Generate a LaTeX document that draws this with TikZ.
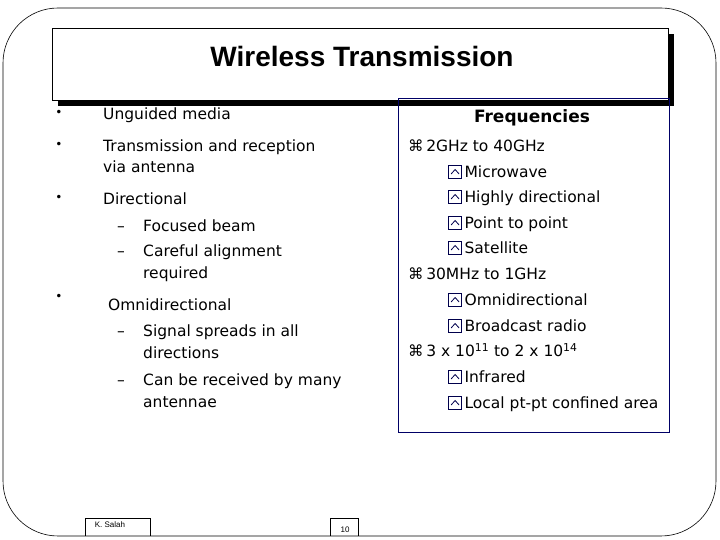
\documentclass[tikz,border=0pt]{standalone}
\usepackage{fontspec}
\setmainfont{DejaVu Sans}
\newfontfamily\titlefont{Liberation Sans}
\newcommand{\qbox}{\tikz[baseline=0pt,x=1pt,y=1pt]{\draw[line width=0.8pt,black!70!blue] (0,0) rectangle (13,13); \draw[line width=0.8pt,black!70!blue] (2.5,4)--(6.5,8.5)--(10.5,4);}}
\begin{document}
\begin{tikzpicture}[x=1pt,y=1pt,
  txt/.style={anchor=base west,inner sep=0pt,font=\fontsize{15.5}{17}\selectfont},
  bul/.style={anchor=center,inner sep=0pt,font=\fontsize{12}{13}\selectfont},
  ftxt/.style={anchor=base west,inner sep=0pt,font=\fontsize{15.5}{17}\selectfont}]
\useasboundingbox (0,0) rectangle (720,540);
\draw[line width=0.6pt,rounded corners=55pt] (3,4) rectangle (716,532);
\fill (58,434) rectangle (674,506);
\node[draw,fill=white,line width=0.8pt,minimum width=616pt,minimum height=72pt,inner sep=0pt,anchor=north west] (title) at (52,512) {};
\node[font=\titlefont\bfseries\fontsize{28}{31}\selectfont] (tt) at (362,483) {Wireless Transmission};
\node[draw=black!60!blue,line width=0.8pt,minimum width=271pt,minimum height=334pt,inner sep=0pt,anchor=north west] (fbox) at (398,442) {};
% left bullets
\node[bul] (b1) at (59,427) {•};
\node[txt] (l1) at (103,420) {Unguided media};
\node[bul] (b2) at (59,395) {•};
\node[txt] (l2) at (103,388) {Transmission and reception};
\node[txt] (l3) at (103,367) {via antenna};
\node[bul] (b3) at (59,342) {•};
\node[txt] (l4) at (103,335) {Directional};
\node[txt] (l5) at (117,308) {–};
\node[txt] (l5b) at (143,308) {Focused beam};
\node[txt] (l6) at (117,283) {–};
\node[txt] (l6b) at (143,283) {Careful alignment};
\node[txt] (l7) at (143,261) {required};
\node[bul] (b4) at (59,243) {•};
\node[txt] (l8) at (108,229) {Omnidirectional};
\node[txt] (l9) at (117,203) {–};
\node[txt] (l9b) at (143,203) {Signal spreads in all};
\node[txt] (l10) at (143,181) {directions};
\node[txt] (l11) at (117,154) {–};
\node[txt] (l11b) at (143,154) {Can be received by many};
\node[txt] (l12) at (143,132) {antennae};
% right
\node[font=\bfseries\fontsize{17}{19}\selectfont,anchor=base] (fh) at (532,417) {Frequencies};
\node[ftxt] (r1) at (408,388) {⌘\,2GHz to 40GHz};
\node[ftxt] (r2) at (448,362) {\qbox\,Microwave};
\node[ftxt] (r3) at (448,337) {\qbox\,Highly directional};
\node[ftxt] (r4) at (448,311) {\qbox\,Point to point};
\node[ftxt] (r5) at (448,286) {\qbox\,Satellite};
\node[ftxt] (r6) at (408,260) {⌘\,30MHz to 1GHz};
\node[ftxt] (r7) at (448,234) {\qbox\,Omnidirectional};
\node[ftxt] (r8) at (448,208) {\qbox\,Broadcast radio};
\node[ftxt] (r9) at (408,183) {⌘\,3 x 10\textsuperscript{11} to 2 x 10\textsuperscript{14}};
\node[ftxt] (r10) at (448,157) {\qbox\,Infrared};
\node[ftxt] (r11) at (448,131) {\qbox\,Local pt-pt confined area};
% footer
\draw[line width=0.5pt] (85,4) -- (85,22) -- (150,22) -- (150,4);
\node[font=\titlefont\fontsize{8}{9}\selectfont] (ks) at (110,15) {K. Salah};
\draw[line width=0.5pt] (330,4) -- (330,22) -- (358,22) -- (358,4);
\node[font=\titlefont\fontsize{8}{9}\selectfont] (pg) at (345,10) {10};
\end{tikzpicture}
\end{document}
